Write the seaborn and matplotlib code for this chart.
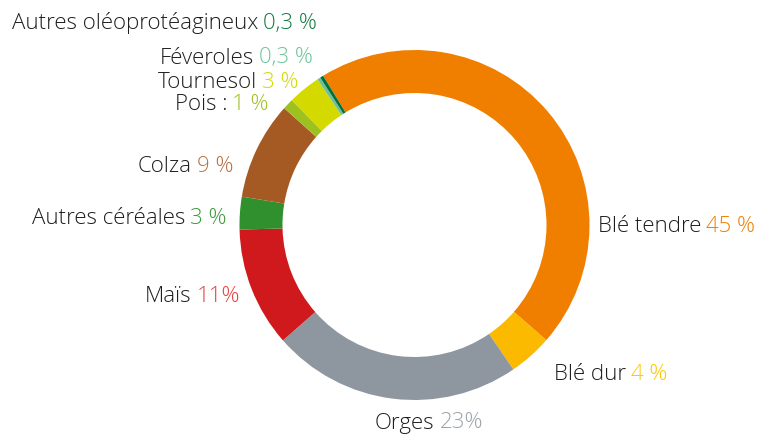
import matplotlib
matplotlib.use("Agg")
import matplotlib.pyplot as plt
import seaborn as sns

# data (percent of total area)
cultures = ["Blé tendre", "Blé dur", "Orges", "Maïs", "Autres céréales",
            "Colza", "Pois :", "Tournesol", "Féveroles", "Autres oléoprotéagineux"]
parts = [45, 4, 23, 11, 3, 9, 1, 3, 0.3, 0.3]
pct_labels = ["45 %", "4 %", "23%", "11%", "3 %", "9 %", "1 %", "3 %", "0,3 %", "0,3 %"]

colors = ["#F07F00", "#FBB900", "#8E979F", "#D0191C", "#30902E",
          "#A65A23", "#9DC120", "#D4D900", "#6FC09A", "#00713A"]
pct_colors = ["#F07F00", "#FCC800", "#9AA3AB", "#E8403F", "#3A9A3A",
              "#B8703E", "#9DC120", "#D4D900", "#6CC49A", "#0E7A40"]

# label anchors in pixels (left edge, vertical centre)
label_pos = [(598, 227), (554, 374), (375, 423), (145, 297), (32, 218),
             (138, 166), (175, 105), (158, 83), (160, 58), (12, 23)]

sns.set_theme(style="white")
plt.rcParams["font.family"] = ["Open Sans", "DejaVu Sans"]

W, H = 758, 434
fig = plt.figure(figsize=(W / 100, H / 100), dpi=100)
ax = fig.add_axes([0, 0, 1, 1])

ax.pie(parts, colors=colors, radius=175, center=(414.5, H - 225),
       startangle=121.5, counterclock=False,
       wedgeprops=dict(width=43, linewidth=0, edgecolor="none"))

for name, pct, pc, (px, py) in zip(cultures, pct_labels, pct_colors, label_pos):
    t = ax.text(px, H - py, name, ha="left", va="center", fontsize=16,
                fontweight="light", color="#1E1E1E")
    ax.annotate(pct, xy=(1, 0), xycoords=t, xytext=(3.5, 0),
                textcoords="offset points", ha="left", va="bottom",
                fontsize=16, fontweight="light", color=pc)

ax.set_xlim(0, W)
ax.set_ylim(0, H)
ax.set_aspect("equal")
ax.axis("off")

fig.savefig("out.png", dpi=100)
